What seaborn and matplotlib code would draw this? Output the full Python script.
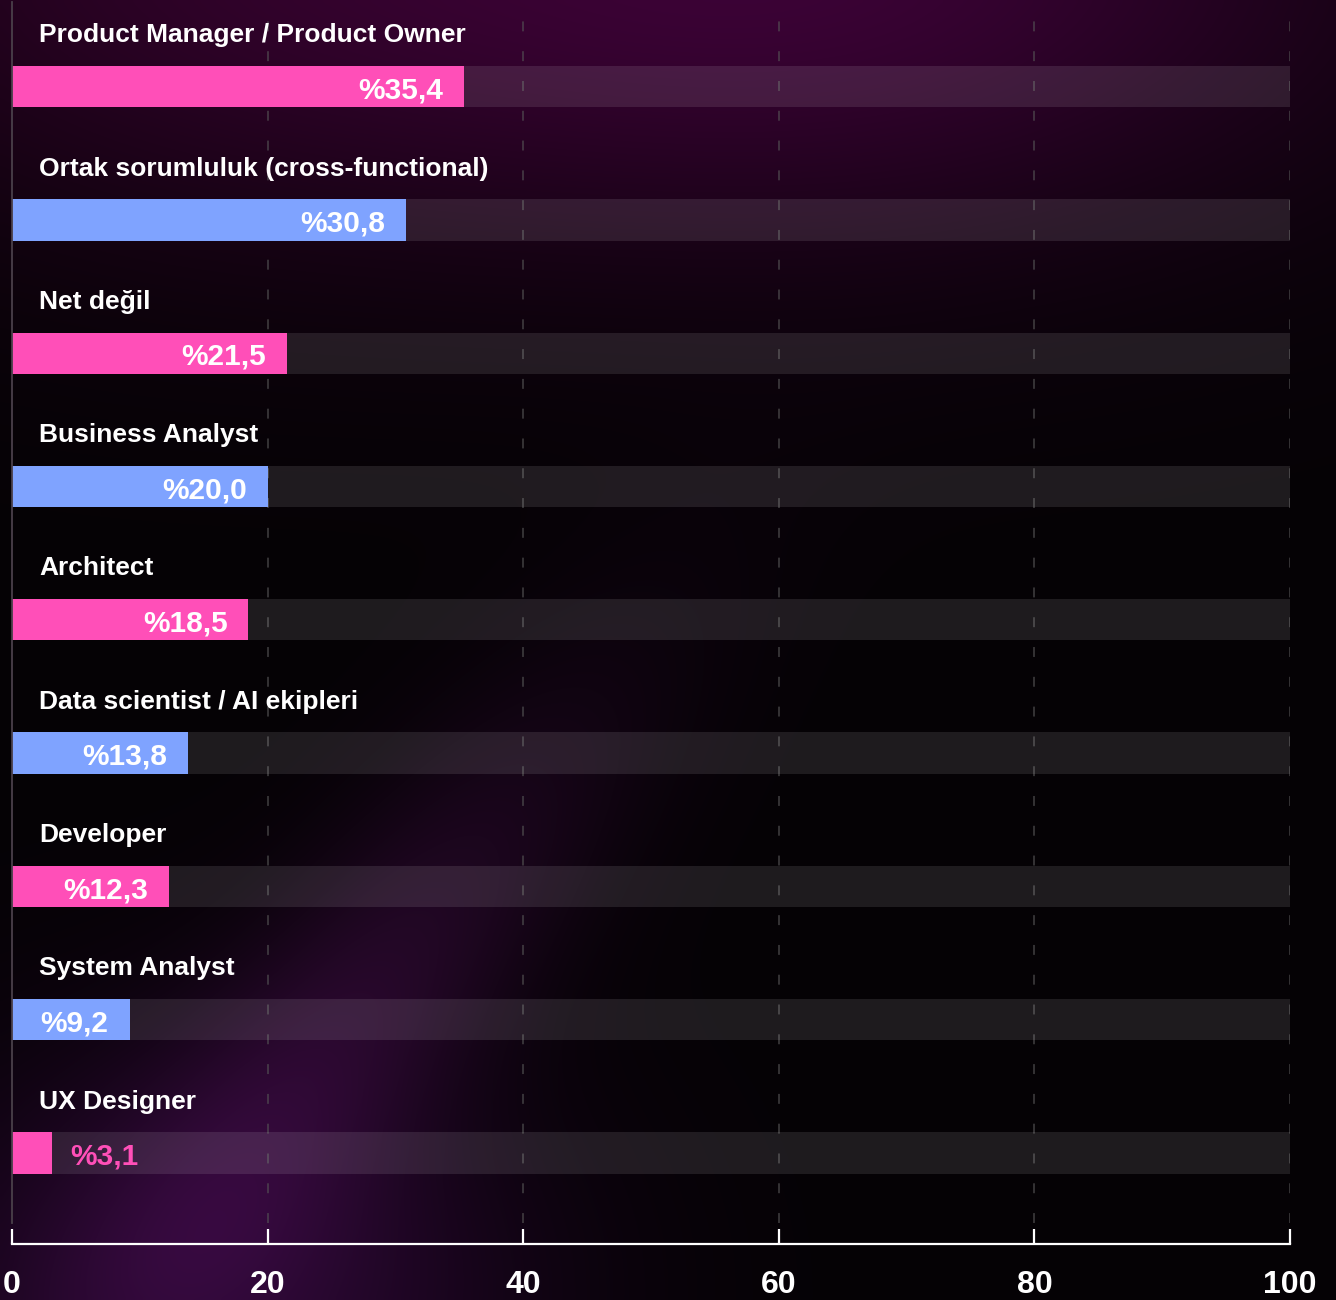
import matplotlib.pyplot as plt
import seaborn as sns
import numpy as np
import pandas as pd

# data
roles = ['Product Manager / Product Owner', 'Ortak sorumluluk (cross-functional)', 'Net değil',
         'Business Analyst', 'Architect', 'Data scientist / AI ekipleri', 'Developer',
         'System Analyst', 'UX Designer']
shares = [35.4, 30.8, 21.5, 20.0, 18.5, 13.8, 12.3, 9.2, 3.1]
groups = ['a', 'b', 'a', 'b', 'a', 'b', 'a', 'b', 'a']
x_ticks = [0, 20, 40, 60, 80, 100]
full_scale = 100

pink = '#ff4fb8'
blue = '#7fa3ff'

df = pd.DataFrame({'role': roles, 'share': shares, 'group': groups})

sns.set_theme(style='white')
plt.rcParams['font.family'] = ['Liberation Sans', 'DejaVu Sans']
plt.rcParams['font.weight'] = 'bold'

W, H = 1336, 1300
fig = plt.figure(figsize=(W / 100, H / 100), dpi=100)
fig.patch.set_facecolor('#050205')

# background glow
bg = fig.add_axes([0, 0, 1, 1], zorder=-5)
yy, xx = np.mgrid[0:H:4, 0:W:4].astype(float)
img = np.zeros(xx.shape + (3,))
img[:] = np.array([0.02, 0.008, 0.02])


def glow(cx, cy, rx, ry, col, amt=1.0):
    g = np.exp(-(((xx - cx) / rx) ** 2 + ((yy - cy) / ry) ** 2))
    img[:] += amt * g[..., None] * np.array(col)


glow(820, -40, 560, 280, (0.20, 0.0, 0.18))
glow(150, -60, 450, 300, (0.11, 0.0, 0.09))
glow(220, 1290, 300, 240, (0.14, 0.02, 0.17))
# faint diagonal streak from bottom-left
t = ((xx - 120) * 0.62 + (1300 - yy) * 0.78)
d = ((xx - 120) * 0.78 - (1300 - yy) * 0.62)
streak = np.exp(-(d / 120) ** 2) * np.exp(-((t - 380) / 400) ** 2)
img[:] += streak[..., None] * np.array([0.11, 0.02, 0.12])
bg.imshow(np.clip(img, 0, 1), extent=[0, 1, 0, 1], aspect='auto', interpolation='bicubic')
bg.set_axis_off()

ax = fig.add_axes([12 / W, 1 - 1223 / H, (1290 - 12) / W, (1223 - 2) / H])
ax.set_facecolor('none')

ypos = np.arange(len(roles))
ax.barh(ypos, [full_scale] * len(roles), height=0.31, color='white', alpha=0.1, zorder=1, linewidth=0)
sns.barplot(data=df, y='role', x='share', hue='group', palette={'a': pink, 'b': blue},
            orient='h', width=0.31, dodge=False, legend=False, saturation=1, ax=ax, zorder=2,
            linewidth=0)

for i, (r, v, g) in enumerate(zip(roles, shares, groups)):
    ax.annotate(r, xy=(0, i - 0.333), xytext=(19.5, 0), textcoords='offset points',
                ha='left', va='baseline', color='white', fontsize=19, fontweight='bold', zorder=4)
    lbl = '%' + f'{v:.1f}'.replace('.', ',')
    if v < 6:
        ax.annotate(lbl, xy=(v, i + 0.088), xytext=(13.5, 0), textcoords='offset points',
                    ha='left', va='baseline', color=pink if g == 'a' else blue,
                    fontsize=21.5, fontweight='bold', zorder=4)
    else:
        ax.annotate(lbl, xy=(v, i + 0.088), xytext=(-15, 0), textcoords='offset points',
                    ha='right', va='baseline', color='white', fontsize=21.5, fontweight='bold', zorder=4)

ax.set_xlim(0, full_scale)
ax.set_ylim(8.525, -0.635)
ax.set_xticks(x_ticks)
ax.set_xticklabels([str(t) for t in x_ticks])
ax.set_yticks([])
ax.set_xlabel('')
ax.set_ylabel('')

ax.grid(False)
for t in x_ticks[1:]:
    ax.axvline(t, color='#555555', lw=1.1, linestyle=(0, (6.5, 13)), alpha=0.75, zorder=0.5)

for s in ['top', 'right']:
    ax.spines[s].set_visible(False)
ax.spines['left'].set_color('#4a404a')
ax.spines['left'].set_linewidth(1.3)
ax.spines['bottom'].set_position(('outward', 15))
ax.spines['bottom'].set_color('white')
ax.spines['bottom'].set_linewidth(1.6)
ax.tick_params(axis='x', direction='in', length=11, width=1.6, color='white', pad=19,
               labelsize=23, labelcolor='white', bottom=True)
for lab in ax.get_xticklabels():
    lab.set_fontweight('bold')

fig.savefig('out.png', dpi=100, facecolor=fig.get_facecolor())
